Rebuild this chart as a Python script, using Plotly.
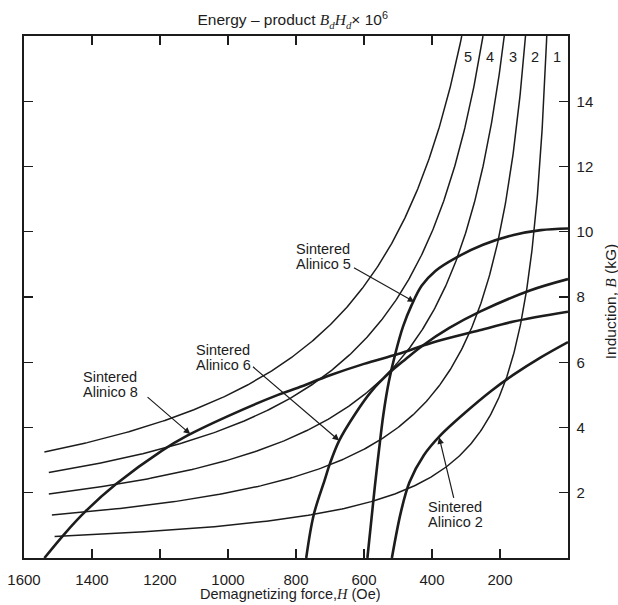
import numpy as np
import plotly.graph_objects as go

# ---------------- data ----------------
# Energy-product iso-lines B*H = n x 10^6 (G*Oe); B in kG, H in Oe
energy_products = [1, 2, 3, 4, 5]
energy_start_H = [1510, 1518, 1527, 1527, 1540]   # where each iso-line starts on the left
B_top = 16.0

# Demagnetization curves (H in Oe, B in kG)
alnico5_H = [590, 580, 568, 556, 543, 527, 507, 485, 460, 430, 390, 330, 250, 160, 80, 0]
alnico5_B = [0.0, 1.0, 2.2, 3.3, 4.4, 5.4, 6.3, 7.1, 7.75, 8.35, 8.8, 9.2, 9.6, 9.9, 10.05, 10.1]

alnico6_H = [770, 748, 716, 700, 673, 627, 579, 528, 477, 429, 349, 259, 112, 0]
alnico6_B = [0.0, 1.32, 2.38, 2.9, 3.6, 4.4, 5.1, 5.65, 6.1, 6.5, 7.05, 7.55, 8.2, 8.55]

alnico8_H = [1540, 1480, 1420, 1331, 1193, 1120, 1000, 853, 794, 700, 600, 500, 400, 260, 160, 0]
alnico8_B = [0.0, 0.75, 1.42, 2.25, 3.3, 3.75, 4.35, 5.0, 5.22, 5.6, 5.95, 6.25, 6.6, 6.98, 7.25, 7.55]

alnico2_H = [518, 491, 466, 424, 376, 303, 226, 160, 80, 0]
alnico2_B = [0.0, 1.43, 2.33, 3.15, 3.75, 4.45, 5.12, 5.62, 6.15, 6.62]

x_tickvals = [1600, 1400, 1200, 1000, 800, 600, 400, 200]
x_toptickvals = [1400, 1200, 1000, 800, 600, 400]
y_tickvals = [2, 4, 6, 8, 10, 12, 14]

# label blocks: (line1, line2, H, B) left edge / vertical centre
label_blocks = [
    ("Sintered", "Alinico 5", 807, 9.24),
    ("Sintered", "Alinico 6", 1101, 6.15),
    ("Sintered", "Alinico 8", 1432, 5.32),
    ("Sintered", "Alinico 2", 418, 1.34),
]
# arrows: (tail H, tail B, tip H, tip B)
arrows = [
    (634, 8.92, 452, 7.85),
    (931, 5.90, 673, 3.60),
    (1241, 4.97, 1111, 3.80),
    (335, 1.80, 379, 3.70),
]
number_label_B = 15.35

# ---------------- figure ----------------
INK = "#1c1c1c"
FONT = "Liberation Sans, Arial, Helvetica, sans-serif"
SERIF = "Liberation Serif, Times New Roman, serif"

fig = go.Figure()

for n, h0 in zip(energy_products, energy_start_H):
    H = np.geomspace(h0, n * 1000.0 / B_top, 300)
    B = n * 1000.0 / H
    fig.add_trace(go.Scatter(x=H, y=B, mode="lines",
                             line=dict(color=INK, width=1.5),
                             hoverinfo="skip", showlegend=False))

for Hs, Bs in [(alnico5_H, alnico5_B), (alnico6_H, alnico6_B),
               (alnico8_H, alnico8_B), (alnico2_H, alnico2_B)]:
    fig.add_trace(go.Scatter(x=Hs, y=Bs, mode="lines",
                             line=dict(color=INK, width=2.6, shape="spline", smoothing=1.0),
                             hoverinfo="skip", showlegend=False))

# invisible trace to activate the top axis
fig.add_trace(go.Scatter(x=[1600, 0], y=[0, 0], xaxis="x2", mode="markers",
                         marker=dict(opacity=0), hoverinfo="skip", showlegend=False))

ann = []
for l1, l2, h, b in label_blocks:
    for txt, shift in ((l1, 7.5), (l2, -7.5)):
        ann.append(dict(x=h, y=b, xref="x", yref="y", text=txt, showarrow=False,
                        xanchor="left", yanchor="middle", yshift=shift,
                        font=dict(family=FONT, size=14.5, color=INK)))
for th, tb, hh, hb in arrows:
    ann.append(dict(x=hh, y=hb, ax=th, ay=tb, xref="x", yref="y", axref="x", ayref="y",
                    text="", showarrow=True, arrowhead=2, arrowsize=1.1, arrowwidth=1.2,
                    arrowcolor=INK, standoff=0, startstandoff=0))
for n in energy_products:
    ann.append(dict(x=(n - 0.5) * 1000.0 / number_label_B, y=number_label_B,
                    xref="x", yref="y", text=str(n), showarrow=False,
                    font=dict(family=FONT, size=14.5, color=INK)))

# axis titles as annotations (exact placement)
ann.append(dict(x=0.49, y=0, xref="paper", yref="paper", yshift=-36,
                xanchor="center", yanchor="middle", showarrow=False,
                text=f"Demagnetizing force,<span style=\"font-family:{SERIF}\"><i>H</i></span> (Oe)",
                font=dict(family=FONT, size=14.5, color=INK)))
ann.append(dict(x=1, y=0.49, xref="paper", yref="paper", xshift=42,
                xanchor="center", yanchor="middle", showarrow=False, textangle=-90,
                text=f"Induction, <span style=\"font-family:{SERIF}\"><i>B</i></span> (kG)",
                font=dict(family=FONT, size=15.5, color=INK)))

fig.update_layout(
    width=618, height=605,
    margin=dict(l=24, r=50, t=36, b=47),
    paper_bgcolor="white", plot_bgcolor="white",
    font=dict(family=FONT, size=14, color=INK),
    title=dict(text=("Energy \u2013 product "
                     f"<span style=\"font-family:{SERIF}\"><i>B<sub>d</sub>H<sub>d</sub></i></span>"
                     "\u00d7 10<sup>6</sup>"),
               x=0.494, xref="paper", xanchor="center",
               y=1 - 20 / 605, yref="container", yanchor="middle",
               font=dict(family=FONT, size=15.5, color=INK)),
    xaxis=dict(range=[1600, 0], tickvals=x_tickvals, ticks="inside", ticklen=9,
               tickwidth=1.3, tickcolor=INK, showline=True, linewidth=1.6, linecolor=INK,
               mirror=True, showgrid=False, zeroline=False, ticklabelstandoff=7,
               tickfont=dict(family=FONT, size=15, color=INK), automargin=False),
    xaxis2=dict(range=[1600, 0], overlaying="x", side="top", tickvals=x_toptickvals,
                ticks="inside", ticklen=9, tickwidth=1.3, tickcolor=INK,
                showticklabels=False, showline=False, showgrid=False, zeroline=False,
                automargin=False),
    yaxis=dict(range=[0, 16], side="right", tickvals=y_tickvals, ticks="inside", ticklen=9,
               tickwidth=1.3, tickcolor=INK, showline=True, linewidth=1.6, linecolor=INK,
               mirror="ticks", showgrid=False, zeroline=False, ticklabelstandoff=4,
               tickfont=dict(family=FONT, size=15, color=INK), automargin=False),
    annotations=ann,
)

fig.write_html("out.html",
               config={"displayModeBar": False, "staticPlot": True},
               post_script="document.body.style.margin='0';document.body.style.overflow='hidden';")
